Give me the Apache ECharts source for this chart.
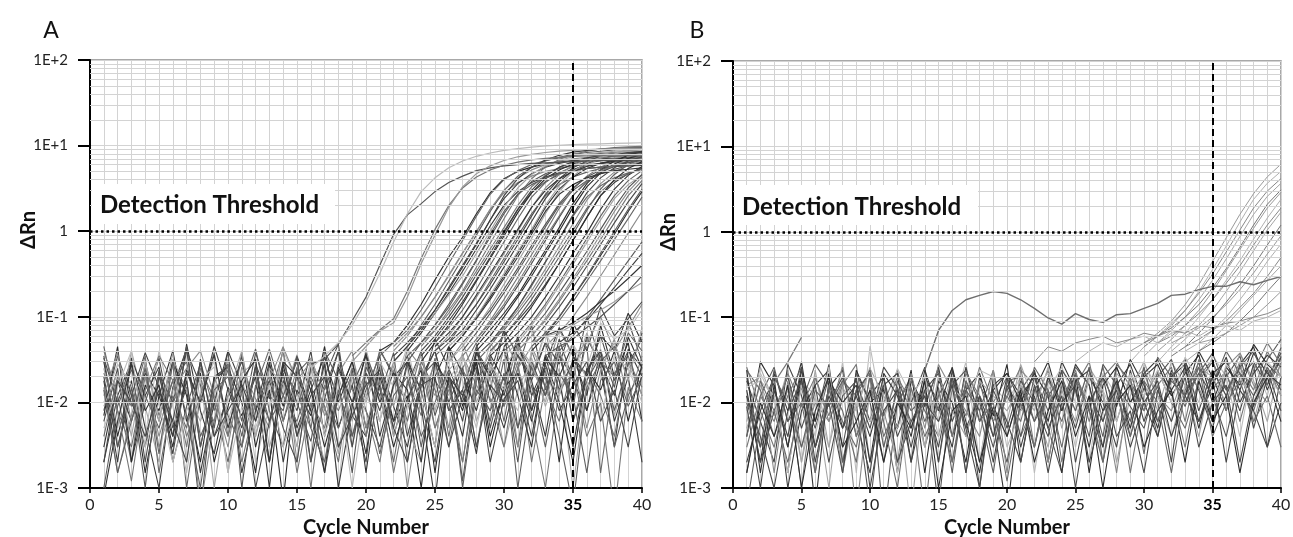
<!DOCTYPE html>
<html>
<head>
<meta charset="utf-8">
<script src="https://cdn.jsdelivr.net/npm/echarts@6/dist/echarts.min.js"></script>
<style>
html,body{margin:0;padding:0;background:#fff}
#main{width:1293px;height:537px}
</style>
</head>
<body>
<div id="main"></div>
<script>
// baseline noise, cycles 1..40, in units of 1E-3 (A panel)
var noiseA = [
  [30,4,18,1.5,12,40,6,22,2,9,35,3,14,0.7,25,8,45,5,16,2.5, 28,6,12,1,20,45,9,30,3,15,60,8,25,2,35,12,80,20,50,6],
  [6,25,2,10,33,5,15,0.5,20,7,3,28,11,40,4,18,1.5,12,30,8, 3,16,35,10,2,22,6,40,14,70,5,26,12,55,18,8,40,15,90,30],
  [45,8,3,20,6,28,1,12,38,4,16,9,2,24,13,5,30,3,10,22, 12,2,18,7,33,4,25,50,10,20,3,40,15,6,28,45,1.5,22,35,12],
  [2,12,30,5,1,15,42,3,18,26,1.5,8,35,6,20,2,11,40,7,4, 28,9,3,20,40,8,14,2.5,30,12,50,18,4,35,10,60,25,3,42,20],
  [15,1.5,7,28,3,10,20,0.6,6,32,12,4,18,45,2,25,7,14,3,30, 6,24,1,12,28,5,35,16,8,45,3,20,70,12,30,5,24,55,10,35],
  [8,35,12,3,24,2,9,28,5,40,1,16,6,30,10,3.5,20,48,4,14, 35,4,16,40,7,22,1.2,18,32,9,25,80,14,38,18,100,30,45,20,65],
  [25,5,40,9,2,32,14,6,18,1.5,22,30,3,12,36,9,2,20,6,42, 10,30,5,2,26,12,38,6,20,3,14,33,9,25,1,18,42,7,28,12],
  [3,18,6,22,12,4,48,8,2.5,15,7,20,1,28,5,14,34,10,25,1.5, 20,6,30,14,3,45,22,8,36,18,55,12,28,75,35,20,60,40,110,50],
  [40,12,2,30,7,18,3,25,11,4,38,6,16,22,1.5,10,5,28,14,8, 2,18,10,38,5,14,26,3,22,9,30,2,16,45,6,24,12,4,30,15],
  [10,28,16,4,40,9,1.5,14,30,6,22,2,9,40,18,6,25,1,32,12, 30,15,45,8,24,18,35,12,50,28,40,20,65,32,48,25,85,55,70,120],
  [1,9,24,12,5,18,30,4,10,2,14,42,8,3,22,33,12,5,16,36, 14,5,28,3,18,10,2,24,6,32,1,12,20,4,0.6,15,30,3,12,25],
  [20,3,12,38,15,2.5,22,10,45,14,5,26,2,18,8,40,4,24,10,2, 42,20,30,14,55,25,10,40,22,70,35,18,50,28,85,40,130,60,95,150],
  [7,45,2,16,8,30,12,2,20,26,10,1.5,28,9,34,14,3,12,30,5, 16,3,11,24,1.5,20,8,30,4,15,22,6,34,10,2,25,14,40,6,28],
  [33,10,28,2,20,6,40,16,4,12,30,8,18,5,2,26,14,40,3,22, 8,28,4,18,40,10,25,3,16,10,36,20,50,14,30,22,60,18,40,26],
  [4,20,9,35,1.5,12,5,30,8,24,3,15,42,12,6,20,9,2,25,11, 40,22,6,30,14,3,24,12,35,6,45,25,12,38,9,55,30,20,65,40],
  [18,2,33,12,26,4,18,1.5,10,40,16,6,30,2,14,7,28,1,9,38, 4,16,30,9,0.7,20,12,32,15,5,22,8,36,18,3,24,40,6,20,2],
  [12,38,6,20,4,14,25,40,12,3,26,11,5,44,18,30,8,22,40,5, 22,9,42,26,12,30,50,18,38,60,25,45,20,70,35,50,100,40,75,140],
  [35,3,15,1,22,10,45,3,18,28,6,38,12,8,35,2,40,18,1.5,26, 12,38,2,20,30,8,14,45,5,22,2,30,12,42,6,18,35,8,28,55],
  [9,22,4,30,6,38,2,20,1,12,40,4,25,16,3,33,12,2.5,20,10, 28,4,15,36,8,24,35,10,26,14,46,28,10,38,20,65,24,50,18,75],
  [0.8,6,28,8,16,3,24,10,36,5,18,32,2,30,20,8,1.5,26,10,35, 10,22,14,2,30,16,4,38,20,42,12,3,33,20,48,8,30,12,58,25],
  [22,8,1.2,14,35,18,4,12,6,28,2,10,20,6,26,1,16,8,22,4, 18,1.5,10,26,5,16,2,20,11,3,26,7,1,14,22,4,10,0.5,15,6],
  [5,15,40,3,10,2,8,18,26,1.5,9,5,16,3,10,28,4,15,1,12, 6,28,9,15,3,35,18,5,28,16,8,40,24,12,48,18,6,36,25,10],
  [14,1.5,6,25,2.5,30,7,1,14,20,4,24,6,12,30,5,2,14,4,18, 2.5,12,20,4,10,24,1,14,8,20,5,16,3,22,12,1.5,18,30,9,20],
  [2,18,10,4,14,6,2,32,4,8,16,1,6,22,4,12,20,3,7,16, 24,5,2,16,20,3,12,26,2,11,18,4,28,8,16,30,6,14,3,22]
];

// early amplification curves (ΔRn)
var earlyStartA = [16, 16, 19, 19];
var earlyA = [
  [0.028,0.032,0.048,0.09,0.17,0.4,0.92,1.55,2.1,2.9,3.7,4.4,5.1,5.5,5.8,6.0,6.2,6.3,6.4,6.5,6.6,6.7,6.75,6.8,6.85],
  [0.025,0.035,0.05,0.08,0.15,0.32,0.75,1.6,2.9,4.2,5.5,6.6,7.5,8.2,8.8,9.2,9.6,9.9,10.1,10.3,10.4,10.5,10.6,10.7,10.8],
  [0.035,0.05,0.07,0.095,0.2,0.48,1.05,2.0,3.2,4.3,5.2,5.9,6.4,6.8,7.1,7.3,7.5,7.6,7.7,7.8,7.85,7.9],
  [0.03,0.045,0.068,0.085,0.17,0.42,0.9,1.9,3.3,4.7,5.8,6.7,7.4,7.9,8.3,8.6,8.8,9.0,9.1,9.2,9.3,9.35]
];

// main bundle of amplification curves (ΔRn), each runs from its start cycle to 40
var bundleStartA = [21,21,22,22,22,23,23,23,24,24,24,25,25,25,26,26,26,27,27,28,28,28,29,29,30,30,30,31,31,32,32,33,33,34,34,33,32,33,24,25,28,29,
                    22,23,24,25,26,27,28,28,29,30,31,32,22,26];
var bundleA = [
  [0.04,0.05,0.08,0.14,0.27,0.5,0.85,1.6,2.8,4.1,5.0,5.6,6.1,6.4,6.7,6.9,7.0,7.1,7.15,7.2],
  [0.035,0.05,0.07,0.12,0.22,0.42,0.78,1.5,2.7,4.0,5.1,6.0,6.7,7.2,7.6,7.9,8.1,8.3,8.4,8.5],
  [0.04,0.06,0.1,0.17,0.31,0.56,1.0,1.8,2.8,3.7,4.4,5.0,5.4,5.8,6.0,6.2,6.35,6.4,6.5],
  [0.03,0.045,0.08,0.14,0.26,0.48,0.9,1.7,3.0,4.4,5.6,6.6,7.3,7.9,8.3,8.6,8.9,9.1,9.2],
  [0.035,0.05,0.075,0.12,0.22,0.4,0.72,1.35,2.4,3.6,4.7,5.6,6.2,6.7,7.0,7.3,7.5,7.7,7.8],
  [0.04,0.065,0.11,0.19,0.34,0.62,1.15,2.0,2.9,3.7,4.3,4.8,5.1,5.4,5.6,5.7,5.8,5.85],
  [0.045,0.07,0.11,0.18,0.3,0.55,1.0,1.9,3.2,4.6,5.8,6.7,7.4,7.9,8.3,8.6,8.8,8.9],
  [0.03,0.05,0.08,0.14,0.25,0.46,0.85,1.6,2.7,3.8,4.7,5.4,5.9,6.3,6.6,6.8,6.9,7.0],
  [0.045,0.07,0.12,0.2,0.38,0.72,1.4,2.6,4.1,5.6,6.9,7.9,8.6,9.1,9.5,9.7,9.8],
  [0.04,0.06,0.1,0.17,0.31,0.56,1.0,1.8,2.8,3.8,4.6,5.3,5.8,6.2,6.5,6.7,6.8],
  [0.03,0.05,0.08,0.14,0.26,0.48,0.88,1.65,2.8,4.1,5.2,6.1,6.8,7.3,7.6,7.8,8.0],
  [0.05,0.075,0.12,0.21,0.4,0.75,1.4,2.5,3.7,4.8,5.7,6.3,6.8,7.1,7.3,7.4],
  [0.04,0.06,0.1,0.17,0.3,0.55,1.0,1.9,3.2,4.6,5.9,6.9,7.7,8.3,8.7,9.0],
  [0.035,0.05,0.085,0.14,0.26,0.48,0.88,1.6,2.6,3.5,4.3,4.9,5.4,5.8,6.0,6.2],
  [0.05,0.07,0.12,0.21,0.38,0.7,1.3,2.4,3.8,5.1,6.2,7.0,7.6,8.0,8.3],
  [0.04,0.06,0.1,0.17,0.3,0.55,1.0,1.9,3.1,4.3,5.4,6.2,6.8,7.3,7.6],
  [0.03,0.045,0.075,0.13,0.24,0.44,0.82,1.6,2.9,4.4,5.9,7.1,8.1,8.9,9.4],
  [0.04,0.065,0.11,0.19,0.34,0.62,1.12,2.0,3.0,3.9,4.7,5.3,5.8,6.2],
  [0.035,0.055,0.09,0.16,0.29,0.53,0.97,1.85,3.1,4.4,5.6,6.5,7.2,7.7],
  [0.05,0.08,0.13,0.23,0.42,0.78,1.45,2.6,3.8,4.9,5.7,6.3,6.7],
  [0.04,0.06,0.1,0.17,0.3,0.55,1.0,1.9,3.3,4.8,6.1,7.1,7.9],
  [0.03,0.045,0.075,0.13,0.23,0.43,0.8,1.5,2.5,3.4,4.2,4.8,5.3],
  [0.05,0.075,0.12,0.2,0.36,0.66,1.22,2.3,3.6,4.9,5.9,6.6],
  [0.04,0.06,0.095,0.16,0.28,0.5,0.92,1.75,3.1,4.6,6.0,7.1],
  [0.06,0.09,0.14,0.24,0.42,0.78,1.45,2.6,3.7,4.7,5.4],
  [0.045,0.065,0.1,0.17,0.3,0.55,0.95,1.8,3.1,4.5,5.7],
  [0.035,0.05,0.08,0.13,0.23,0.41,0.74,1.35,2.4,3.5,4.5],
  [0.045,0.07,0.11,0.19,0.33,0.58,1.05,1.9,3.2,4.6],
  [0.04,0.06,0.09,0.15,0.26,0.45,0.8,1.45,2.6,3.9],
  [0.05,0.08,0.13,0.22,0.39,0.7,1.25,2.2,3.6],
  [0.04,0.06,0.1,0.17,0.29,0.52,0.92,1.7,2.9],
  [0.06,0.09,0.15,0.26,0.45,0.8,1.4,2.5],
  [0.045,0.065,0.1,0.17,0.3,0.53,0.95,1.7],
  [0.04,0.06,0.095,0.16,0.27,0.45,0.75],
  [0.05,0.065,0.09,0.14,0.22,0.35,0.55],
  [0.06,0.07,0.085,0.11,0.15,0.2,0.28,0.4],
  [0.05,0.06,0.065,0.08,0.1,0.12,0.15,0.2,0.25],
  [0.035,0.045,0.055,0.075,0.1,0.14,0.2,0.3],
  [0.05,0.07,0.11,0.19,0.34,0.62,1.1,2.0,3.3,4.5,5.5,6.3,6.8,7.2,7.4,7.6,7.7],
  [0.04,0.055,0.085,0.14,0.24,0.44,0.8,1.5,2.7,4.1,5.5,6.6,7.4,8.0,8.3,8.6],
  [0.045,0.07,0.11,0.18,0.33,0.6,1.1,2.1,3.6,5.2,6.6,7.7,8.5],
  [0.05,0.07,0.11,0.18,0.32,0.58,1.02,1.85,2.9,3.9,4.7,5.3],
  [0.045,0.065,0.1,0.17,0.3,0.55,0.98,1.8,3.0,4.2,5.2,6.0,6.6,7.0,7.3,7.5,7.7,7.8,7.9],
  [0.035,0.05,0.08,0.13,0.24,0.45,0.92,1.7,2.7,3.5,4.2,4.7,5.1,5.4,5.6,5.8,5.9,6.0],
  [0.035,0.055,0.09,0.15,0.27,0.5,0.95,1.8,3.0,4.4,5.6,6.5,7.2,7.7,8.0,8.2,8.4],
  [0.045,0.065,0.1,0.18,0.32,0.58,1.05,1.9,3.0,4.1,5.0,5.7,6.2,6.6,6.8,7.0],
  [0.045,0.065,0.1,0.18,0.32,0.58,1.05,2.0,3.4,5.0,6.3,7.3,8.0,8.6,9.0],
  [0.05,0.075,0.12,0.21,0.37,0.68,1.2,2.1,3.2,4.3,5.2,5.9,6.4,6.9],
  [0.055,0.085,0.14,0.25,0.46,0.85,1.5,2.6,3.9,5.0,5.9,6.6,7.1],
  [0.035,0.05,0.08,0.13,0.24,0.44,0.82,1.55,2.8,4.2,5.5,6.6,7.4],
  [0.035,0.05,0.08,0.13,0.23,0.42,0.78,1.45,2.6,4.0,5.4,6.5],
  [0.04,0.055,0.085,0.14,0.25,0.45,0.82,1.5,2.6,3.9,5.1],
  [0.04,0.06,0.095,0.16,0.28,0.5,0.92,1.7,2.9,4.3],
  [0.045,0.065,0.1,0.17,0.3,0.55,1.0,1.8,3.1],
  [0.03,0.045,0.07,0.12,0.21,0.38,0.7,1.35,2.6,4.1,5.6,6.8,7.7,8.4,8.8,9.1,9.3,9.4,9.5],
  [0.04,0.06,0.095,0.16,0.28,0.5,0.92,1.7,2.7,3.5,4.2,4.7,5.1,5.3,5.5]
];

// baseline noise, cycles 1..40, in units of 1E-3 (B panel)
var noiseB = [
  [20,3,12,1.5,18,6,28,2,10,0.6,15,5,22,3,12,25,4,16,8,2, 14,24,5,1.5,20,8,3,26,10,18,4,22,12,30,6,20,35,9,26,14],
  [5,16,7,24,2,12,1,20,9,26,3,14,0.5,18,6,22,10,2,18,6, 28,10,3,18,8,26,14,2,12,22,8,30,16,4,24,12,38,18,6,32],
  [14,2,22,8,30,3,15,24,4,12,20,1.5,18,9,26,4,14,22,6,0.5, 12,20,6,30,14,3,20,9,32,16,5,24,12,40,20,8,28,45,14,34],
  [26,8,3,15,1,20,6,16,28,2,10,24,5,14,2,18,7,26,10,20, 4,10,24,2,16,30,6,18,1.5,12,22,14,3,20,32,8,26,14,40,20],
  [8,22,10,4,18,12,3,30,1.5,46,6,25,12,3,20,8,30,2,16,10, 20,1.5,14,26,10,2,22,12,5,28,15,6,24,10,36,20,4,30,12,45],
  [1.5,12,26,6,10,28,16,2,14,22,0.4,10,20,6,15,1.5,18,8,24,4, 15,6,20,10,26,16,4,28,18,8,34,20,9,26,16,40,22,12,32,55],
  [18,6,2,28,12,3,10,20,6,1.5,20,4,10,26,2,24,5,12,2,16, 8,24,2,16,5,20,10,3,24,6,16,2,30,14,5,22,8,28,3,20],
  [4,30,16,3,24,6,22,1.5,24,10,14,5,24,1.5,18,10,2,20,7,28, 2,14,30,8,22,1.5,16,26,10,20,28,12,22,36,10,26,16,48,28,20],
  [12,2,8,20,5,16,2,12,18,6,26,15,3,14,22,6,16,1,20,5, 18,10,4,24,2,12,6,20,4,15,6,20,32,8,24,12,30,5,20,38],
  [24,14,4,12,26,1.5,14,6,3,20,4,10,18,8,4,20,1.5,18,4,12, 6,26,14,3,18,8,26,6,20,2.5,24,10,5,18,30,14,22,8,26,12],
  [2,8,20,1,8,16,24,5,12,4,16,22,2,20,10,3,26,6,14,22, 12,3,20,8,28,16,3,16,28,10,4,20,28,6,16,34,10,22,36,26],
  [16,20,1.5,18,3,10,6,18,0.5,15,8,2,22,5,28,14,8,4,24,1.5, 24,16,2,14,6,22,12,1.5,18,24,12,8,24,15,6,26,38,16,10,30],
  [10,3,24,6,15,5,20,3,22,10,2,18,8,12,0.6,16,24,10,3,15, 4,20,8,24,14,4,28,16,9,5,20,32,10,22,12,4,20,30,16,44],
  [6,26,10,14,2,24,3,15,8,25,12,5,15,3,20,8,4,18,12,8, 16,8,26,5,20,10,2,22,14,30,12,4,16,26,20,10,30,6,24,12],
  [24,1.5,16,3,20,0.6,18,10,16,2,22,12,4,24,8,26,6,1.5,16,22, 10,22,12,1.5,18,24,8,18,5,22,32,14,26,5,22,30,14,38,22,16],
  [3,12,6,22,9,20,7,26,4,14,7,20,10,0.5,14,4,22,12,6,12, 26,3,18,10,24,6,20,30,15,8,16,26,6,32,14,24,6,24,50,28],
  [15,18,12,1.5,16,4,26,1.5,10,6,18,1.5,12,20,4,15,10,24,20,3, 8,15,22,16,3,20,14,6,22,12,24,10,34,18,8,28,20,10,30,20],
  [0.6,6,20,10,3,14,9,18,12,24,3,15,6,10,24,2,14,8,1.5,18, 20,6,12,20,8,26,2,16,6,26,6,18,12,22,38,14,26,40,16,35],
  [9,1,14,4,26,2,12,5,20,1,8,14,2,10,6,16,1.5,12,4,20, 3,12,1.5,10,16,2,8,14,3,10,18,4,12,6,20,2,14,8,3,10],
  [1.5,10,4,16,1,8,20,3,6,14,2,10,5,18,1,8,12,2,9,4, 14,2,8,18,4,12,1,10,16,3,8,14,2,18,6,12,1.5,10,20,6],
  [12,4,1,8,18,3,10,1.5,14,5,20,2,6,12,3,20,5,1,14,6, 2,16,5,12,1,10,20,4,8,1.5,14,6,20,3,10,16,2,12,24,8],
  [4,18,8,2,10,1.5,16,8,2,22,6,1,15,4,9,2,18,6,10,1.2, 10,3,14,6,22,8,2,12,4,18,10,1.5,14,26,4,10,18,6,12,3]
];

// late amplification curves in B (ΔRn)
var lateStartB = [29,29,30,30,30,31,31,31,32,32,32,33,33,33,34,34,25,22];
var lateB = [
  [0.04,0.05,0.065,0.09,0.14,0.24,0.45,0.85,1.6,2.8,4.4,6.2],
  [0.03,0.045,0.06,0.085,0.12,0.2,0.36,0.68,1.3,2.4,3.7,5.1],
  [0.045,0.06,0.08,0.12,0.19,0.32,0.58,1.05,1.9,3.0,4.2],
  [0.035,0.05,0.07,0.1,0.16,0.27,0.48,0.88,1.6,2.6,3.7],
  [0.05,0.06,0.075,0.1,0.14,0.22,0.37,0.66,1.2,2.1,3.1],
  [0.04,0.055,0.08,0.12,0.2,0.35,0.62,1.1,1.9,2.9],
  [0.03,0.045,0.065,0.1,0.16,0.27,0.46,0.82,1.45,2.4],
  [0.05,0.06,0.08,0.11,0.16,0.25,0.4,0.7,1.2,1.9],
  [0.04,0.055,0.08,0.12,0.2,0.34,0.6,1.05,1.7],
  [0.035,0.045,0.065,0.095,0.15,0.24,0.4,0.7,1.2],
  [0.05,0.06,0.075,0.1,0.14,0.21,0.33,0.55,0.9],
  [0.04,0.05,0.07,0.1,0.16,0.26,0.45,0.72],
  [0.045,0.055,0.07,0.09,0.13,0.19,0.3,0.5],
  [0.03,0.04,0.055,0.08,0.12,0.18,0.27,0.4],
  [0.04,0.05,0.065,0.09,0.13,0.2,0.3],
  [0.05,0.055,0.065,0.08,0.1,0.14,0.2],
  [0.03,0.04,0.05,0.045,0.055,0.06,0.05,0.065,0.07,0.06,0.075,0.08,0.07,0.09,0.1,0.12],
  [0.03,0.045,0.04,0.05,0.055,0.06,0.05,0.055,0.065,0.06,0.07,0.065,0.08,0.075,0.085,0.09,0.1,0.11,0.13]
];

// odd curves in B
var humpStartB = 14;
var humpB = [0.024,0.07,0.12,0.16,0.18,0.2,0.19,0.16,0.127,0.098,0.083,0.11,0.094,0.087,0.107,0.11,0.127,0.145,0.18,0.186,0.21,0.23,0.23,0.26,0.24,0.27,0.3];
var shortStartB = 3;
var shortB = [0.017,0.03,0.058];

var threshold = 1;
var cutoffCycle = 35;
var minorMult = [2,3,4,5,6,7,8,9];
var decades = [0.001,0.01,0.1,1,10];

var noiseGrays = ['#2a2a2a','#4a4a4a','#6a6a6a','#3a3a3a','#8a8a8a','#555555','#a5a5a5','#333333','#777777','#bcbcbc','#5f5f5f','#454545'];
var bundleGrays = ['#2e2e2e','#555555','#3f3f3f','#666666','#777777','#353535','#8c8c8c','#4a4a4a','#a0a0a0','#5e5e5e'];
var lateGrays = ['#9a9a9a','#b0b0b0','#888888','#a5a5a5','#777777'];
var gridColor = '#d3d3d3';
var FONT = 'Lato';

var minorVals = [];
decades.forEach(function (d) {
  minorMult.forEach(function (m) { minorVals.push(d * m); });
});

function expLabel(v) {
  var e = Math.round(Math.log10(v));
  if (e === 0) return '1';
  return '1E' + (e > 0 ? '+' : '-') + Math.abs(e);
}

function curve(g, start, vals, scale, color, width) {
  return {
    type: 'line',
    xAxisIndex: g, yAxisIndex: g,
    data: vals.map(function (v, i) { return [start + i, v * scale]; }),
    symbol: 'none', showSymbol: false, silent: true,
    lineStyle: { width: width || 1, color: color },
    z: 2
  };
}

var series = [];
[0, 1].forEach(function (g) {
  // minor log grid lines
  series.push({
    type: 'line', xAxisIndex: g, yAxisIndex: g, data: [[0, 0.0001]],
    symbol: 'none', lineStyle: { opacity: 0 }, silent: true, z: 1,
    markLine: {
      silent: true, symbol: ['none', 'none'], label: { show: false },
      lineStyle: { color: gridColor, width: 1, type: 'solid' },
      data: minorVals.map(function (v) { return { yAxis: v }; })
    }
  });
});

noiseA.forEach(function (c, i) { series.push(curve(0, 1, c, 0.001, noiseGrays[i % noiseGrays.length], 1.1)); });
bundleA.forEach(function (c, i) { series.push(curve(0, bundleStartA[i], c, 1, bundleGrays[(i * 3) % bundleGrays.length], 1.15)); });
earlyA.forEach(function (c, i) { series.push(curve(0, earlyStartA[i], c, 1, ['#555','#bbbbbb','#777','#9a9a9a'][i], 1.2)); });

noiseB.forEach(function (c, i) { series.push(curve(1, 1, c, 0.001, noiseGrays[(i + 5) % noiseGrays.length], 1.1)); });
lateB.forEach(function (c, i) { series.push(curve(1, lateStartB[i], c, 1, lateGrays[i % lateGrays.length])); });
series.push(curve(1, humpStartB, humpB, 1, '#6e6e6e', 1.4));
series.push(curve(1, shortStartB, shortB, 1, '#777', 1.2));

[0, 1].forEach(function (g) {
  series.push({
    type: 'line', xAxisIndex: g, yAxisIndex: g, data: [[0, 0.0001]],
    symbol: 'none', lineStyle: { opacity: 0 }, silent: true, z: 10,
    markLine: {
      silent: true, symbol: ['none', 'none'], label: { show: false },
      data: [
        { yAxis: threshold, lineStyle: { color: '#000', width: 2.5, type: [2.5, 3] } },
        { xAxis: cutoffCycle, lineStyle: { color: '#000', width: 2, type: [7, 4] } }
      ]
    }
  });
});

function xAxisOpt(g) {
  return {
    type: 'value', gridIndex: g, min: 0, max: 40, interval: 5,
    name: 'Cycle Number', nameLocation: 'middle', nameGap: 28,
    nameTextStyle: { fontFamily: FONT, fontWeight: 'bold', fontSize: 20, color: '#111' },
    axisLine: { show: true, onZero: false, lineStyle: { color: '#000', width: 2 } },
    axisTick: { show: true, length: 5, lineStyle: { color: '#000', width: 1.5 } },
    minorTick: { show: false, splitNumber: 5 },
    axisLabel: {
      margin: 9, fontFamily: FONT, fontSize: 16, color: '#222',
      formatter: function (v) { return v === cutoffCycle ? '{b|' + v + '}' : String(v); },
      rich: { b: { fontFamily: FONT, fontSize: 16, fontWeight: 'bold', color: '#000' } }
    },
    splitLine: { show: true, lineStyle: { color: gridColor, width: 1 } },
    minorSplitLine: { show: true, lineStyle: { color: gridColor, width: 1 } }
  };
}

function yAxisOpt(g) {
  return {
    type: 'log', gridIndex: g, logBase: 10, min: 0.001, max: 100, splitNumber: 5,
    axisLine: { show: true, lineStyle: { color: '#000', width: 2 } },
    axisTick: { show: true, length: 12, lineStyle: { color: '#000', width: 2 } },
    axisLabel: { margin: 22, fontFamily: FONT, fontSize: 15, color: '#222', formatter: expLabel },
    splitLine: { show: true, lineStyle: { color: gridColor, width: 1 } }
  };
}

function textEl(txt, x, y, size, weight, rot) {
  return {
    type: 'text', x: x, y: y, rotation: rot || 0, z: 60,
    style: { text: txt, fontFamily: FONT, fontSize: size, fontWeight: weight, fill: '#111', align: 'center', verticalAlign: 'middle' }
  };
}

var chart = echarts.init(document.getElementById('main'));
chart.setOption({
  animation: false,
  backgroundColor: '#fff',
  grid: [
    { left: 90, right: 651, top: 60, bottom: 49, containLabel: false, outerBoundsMode: 'none',
      show: true, borderColor: '#8c8c8c', borderWidth: 1.5, backgroundColor: 'transparent' },
    { left: 733, right: 12, top: 61, bottom: 49, containLabel: false, outerBoundsMode: 'none',
      show: true, borderColor: '#8c8c8c', borderWidth: 1.5, backgroundColor: 'transparent' }
  ],
  xAxis: [xAxisOpt(0), xAxisOpt(1)],
  yAxis: [yAxisOpt(0), yAxisOpt(1)],
  series: series,
  graphic: [
    { type: 'rect', shape: { x: 92, y: 184, width: 243, height: 40 }, style: { fill: '#fff' }, z: 50 },
    { type: 'rect', shape: { x: 735, y: 185, width: 243, height: 40 }, style: { fill: '#fff' }, z: 50 },
    { type: 'text', x: 100, y: 205, z: 60, style: { text: 'Detection Threshold', fontFamily: FONT, fontSize: 24, fontWeight: 'bold', fill: '#111', align: 'left', verticalAlign: 'middle' } },
    { type: 'text', x: 742, y: 207, z: 60, style: { text: 'Detection Threshold', fontFamily: FONT, fontSize: 24, fontWeight: 'bold', fill: '#111', align: 'left', verticalAlign: 'middle' } },
    textEl('ΔRn', 29, 230, 20, 'bold', Math.PI / 2),
    textEl('ΔRn', 669, 232, 20, 'bold', Math.PI / 2),
    textEl('A', 51, 31, 23, 'normal'),
    textEl('B', 697, 31, 23, 'normal')
  ]
});
</script>
</body>
</html>
